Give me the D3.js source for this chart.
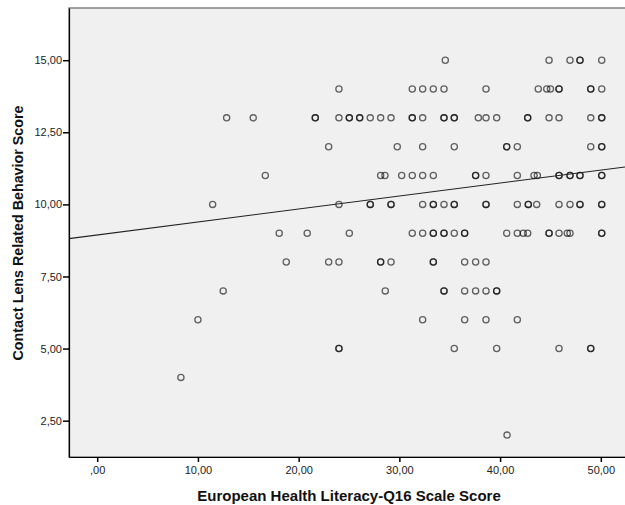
<!DOCTYPE html>
<html>
<head>
<meta charset="utf-8">
<script src="https://cdn.jsdelivr.net/npm/d3@7"></script>
<style>
  body { margin: 0; background: #fff; }
  text { font-family: "Liberation Sans", Arial, sans-serif; }
</style>
</head>
<body>
<div id="chart"></div>
<script>
// Behavior score levels (y) and the literacy scores (x) seen on each level.
// Repeated values = darker (overlapping) markers in the original.
const behaviorLevels = [15, 14, 13, 12, 11, 10, 9, 8, 7, 6, 5, 4, 2];
const literacyAtLevel = [
  [34.56, 44.86, 46.94, 47.93, 47.93, 50.09],
  [24.0, 31.28, 32.31, 33.37, 34.43, 38.6, 43.79, 44.63, 45.0, 45.85, 45.85, 49.0, 49.0, 50.09],
  [12.85, 15.49, 21.65, 21.65, 24.0, 25.03, 25.03, 26.06, 26.06, 27.11, 28.14, 29.17, 31.28, 31.28, 32.31,
   34.43, 34.43, 35.45, 35.45, 37.84, 38.6, 39.66, 42.74, 42.74, 44.86, 45.85, 49.0, 50.09, 50.09],
  [22.98, 29.79, 32.31, 35.45, 40.66, 40.66, 41.71, 49.0, 50.09, 50.09],
  [16.69, 28.14, 28.57, 30.23, 31.28, 32.31, 33.37, 37.57, 37.57, 38.6, 41.71, 43.37, 43.7,
   45.85, 45.85, 46.94, 46.94, 47.93, 47.93, 50.09, 50.09],
  [11.46, 24.0, 27.11, 27.11, 29.17, 29.17, 32.31, 33.37, 33.37, 34.43, 35.45, 35.45, 38.6, 38.6,
   41.71, 42.8, 42.8, 43.63, 45.85, 46.94, 47.93, 47.93, 50.09, 50.09],
  [18.07, 20.85, 25.03, 31.28, 32.31, 33.37, 33.37, 34.43, 34.43, 35.45, 36.48, 36.48, 40.66, 41.71,
   42.3, 42.74, 44.86, 44.86, 45.85, 46.67, 46.94, 50.09, 50.09],
  [18.77, 22.98, 24.0, 28.14, 28.14, 29.17, 33.37, 33.37, 36.48, 37.57, 38.6],
  [12.51, 28.6, 34.43, 34.43, 36.48, 37.57, 38.6, 39.66, 39.66],
  [10.0, 32.31, 36.48, 38.6, 41.71],
  [24.0, 24.0, 35.45, 39.66, 45.85, 49.0, 49.0],
  [8.31],
  [40.69]
];
// Fit line: intercept and slope
const fitIntercept = 8.94;
const fitSlope = 0.045;

const xTicks = [0, 10, 20, 30, 40, 50];
const yTicks = [2.5, 5, 7.5, 10, 12.5, 15];
const xTitle = "European Health Literacy-Q16 Scale Score";
const yTitle = "Contact Lens Related Behavior Score";

const points = [];
behaviorLevels.forEach((lvl, i) => {
  literacyAtLevel[i].forEach((v) => points.push({ x: v, y: lvl }));
});

const width = 625;
const height = 505;
const plotLeft = 69, plotRight = 626, plotTop = 8, plotBottom = 457;

const svg = d3.select("#chart").append("svg")
  .attr("width", width)
  .attr("height", height);

const x = d3.scaleLinear().domain([-2.8, 52.5]).range([plotLeft, plotRight]);
const y = d3.scaleLinear().domain([1.24, 16.81]).range([plotBottom, plotTop]);

const fmt = (d) => d3.format(".2f")(d).replace(".", ",").replace(/^0/, "");

// plot background
svg.append("rect")
  .attr("x", plotLeft).attr("y", plotTop)
  .attr("width", plotRight - plotLeft).attr("height", plotBottom - plotTop)
  .attr("fill", "#f0f0f0")
  .attr("stroke", "#7a7a7a")
  .attr("stroke-width", 1.4);

const plot = svg.append("g");

// points
plot.selectAll("circle")
  .data(points)
  .enter()
  .append("circle")
  .attr("cx", (d) => x(d.x))
  .attr("cy", (d) => y(d.y))
  .attr("r", 3.1)
  .attr("fill", "none")
  .attr("stroke", "#000")
  .attr("stroke-opacity", 0.6)
  .attr("stroke-width", 1.3);

// fit line across the whole x range
const xd = x.domain();
plot.append("line")
  .attr("x1", x(xd[0])).attr("y1", y(fitIntercept + fitSlope * xd[0]))
  .attr("x2", x(xd[1])).attr("y2", y(fitIntercept + fitSlope * xd[1]))
  .attr("stroke", "#222")
  .attr("stroke-width", 1.1);

// axes
const xAxis = svg.append("g")
  .attr("transform", `translate(0,${plotBottom})`)
  .call(d3.axisBottom(x).tickValues(xTicks).tickFormat(fmt).tickSize(5).tickSizeOuter(0));
const yAxis = svg.append("g")
  .attr("transform", `translate(${plotLeft},0)`)
  .call(d3.axisLeft(y).tickValues(yTicks).tickFormat(fmt).tickSize(6).tickSizeOuter(0));

[xAxis, yAxis].forEach((g) => {
  g.select(".domain").attr("stroke", "#000").attr("stroke-width", 1.2);
  g.selectAll(".tick line").attr("stroke", "#000").attr("stroke-width", 1.5);
  g.selectAll(".tick text")
    .attr("fill", "#222")
    .style("font-size", "11px")
    .style("font-family", "'Liberation Sans', Arial, sans-serif");
});
xAxis.selectAll(".tick text").attr("dy", "0.9em").attr("y", 7);
yAxis.selectAll(".tick text").attr("x", -7);

// axis titles
svg.append("text")
  .attr("x", 349)
  .attr("y", 501)
  .attr("text-anchor", "middle")
  .style("font-size", "15px")
  .style("font-weight", "bold")
  .attr("fill", "#111")
  .text(xTitle);

svg.append("text")
  .attr("transform", "translate(23,233) rotate(-90)")
  .attr("text-anchor", "middle")
  .style("font-size", "14.3px")
  .style("font-weight", "bold")
  .attr("fill", "#111")
  .text(yTitle);
</script>
</body>
</html>
